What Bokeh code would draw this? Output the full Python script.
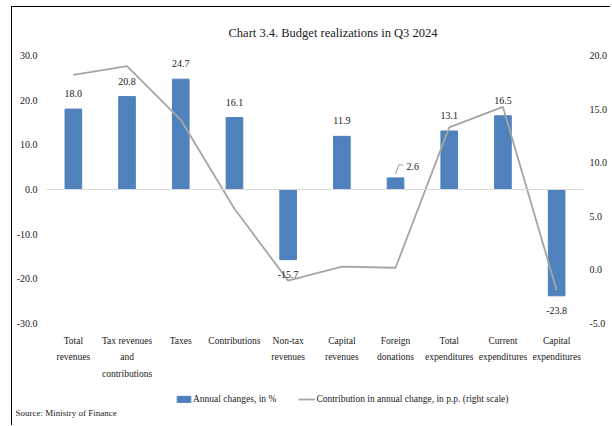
from bokeh.plotting import figure
from bokeh.layouts import column
from bokeh.models import (ColumnDataSource, Range1d, LinearAxis, FixedTicker,
                          NumeralTickFormatter, Span, Legend, LegendItem, Label)
from bokeh.core.properties import value
from bokeh.embed import file_html
from bokeh.resources import INLINE

categories = ["Total\nrevenues", "Tax revenues\nand\ncontributions", "Taxes",
              "Contributions", "Non-tax\nrevenues", "Capital\nrevenues",
              "Foreign\ndonations", "Total\nexpenditures", "Current\nexpenditures",
              "Capital\nexpenditures"]
annual_changes = [18.0, 20.8, 24.7, 16.1, -15.7, 11.9, 2.6, 13.1, 16.5, -23.8]
contribution = [18.2, 19.0, 14.0, 5.7, -1.0, 0.3, 0.2, 13.3, 15.2, -1.9]
left_ticks = [-30, -20, -10, 0, 10, 20, 30]
right_ticks = [-5, 0, 5, 10, 15, 20]

FONT_NAME = "Liberation Serif"
FONT = value(FONT_NAME)
BAR = "#4f81bd"
LINE = "#a5a5a5"
TXT = "#1a1a1a"

p = figure(x_range=categories, y_range=Range1d(-30, 30), width=598, height=380,
           output_backend="svg", toolbar_location=None,
           min_border_left=34, min_border_right=25, min_border_top=47,
           min_border_bottom=64)
p.extra_y_ranges = {"right": Range1d(-5, 20)}
p.outline_line_color = None
p.xgrid.grid_line_color = None
p.ygrid.grid_line_color = None

p.title.text = "Chart 3.4. Budget realizations in Q3 2024"
p.title.align = "left"
p.title.offset = 182
p.title.text_font = FONT_NAME
p.title.text_font_size = "12.5px"
p.title.text_font_style = "normal"
p.title.text_color = TXT
p.title.standoff = 32

# axes
ya = p.yaxis[0]
ya.ticker = FixedTicker(ticks=left_ticks)
ya.formatter = NumeralTickFormatter(format="0.0")
ra = LinearAxis(y_range_name="right", ticker=FixedTicker(ticks=right_ticks),
                formatter=NumeralTickFormatter(format="0.0"))
p.add_layout(ra, "right")
for ax in (ya, ra):
    ax.axis_line_color = None
    ax.major_tick_line_color = None
    ax.minor_tick_line_color = None
    ax.major_tick_out = 0
    ax.major_tick_in = 0
    ax.major_label_text_font = FONT_NAME
    ax.major_label_text_font_size = "10px"
    ax.major_label_text_color = TXT
ya.major_label_standoff = 9
ra.major_label_standoff = 6

xa = p.xaxis[0]
xa.axis_line_color = None
xa.major_tick_line_color = None
xa.major_tick_out = 0
xa.major_tick_in = 0
xa.major_label_text_font = FONT_NAME
xa.major_label_text_font_size = "9.5px"
xa.major_label_text_color = TXT
xa.major_label_text_line_height = 1.65
xa.major_label_standoff = 12

p.add_layout(Span(location=0, dimension="width", line_color="#d9d9d9", line_width=1))

src = ColumnDataSource(dict(cat=categories, val=annual_changes, con=contribution))

bars = p.vbar(x="cat", top="val", bottom=0, width=0.31, source=src,
              fill_color=BAR, line_color=BAR)
line = p.line(x="cat", y="con", source=src, y_range_name="right",
              line_color=LINE, line_width=1.8)

# data labels
fi = categories.index("Foreign\ndonations")
pos_idx = [i for i, v in enumerate(annual_changes) if v >= 0 and i != fi]
neg_idx = [i for i, v in enumerate(annual_changes) if v < 0]
pos = ColumnDataSource(dict(x=[categories[i] for i in pos_idx],
                            y=[annual_changes[i] for i in pos_idx],
                            t=["{:.1f}".format(annual_changes[i]) for i in pos_idx]))
neg = ColumnDataSource(dict(x=[categories[i] for i in neg_idx],
                            y=[annual_changes[i] for i in neg_idx],
                            t=["{:.1f}".format(annual_changes[i]) for i in neg_idx]))
p.text(x="x", y="y", text="t", source=pos, text_align="center",
       text_baseline="bottom", y_offset=-12, text_font=FONT,
       text_font_size="10px", text_color=TXT)
p.text(x="x", y="y", text="t", source=neg, text_align="center",
       text_baseline="top", y_offset=11, text_font=FONT,
       text_font_size="10px", text_color=TXT)

# Foreign donations label with leader line
fv = annual_changes[fi]
p.text(x=[categories[fi]], y=[fv], text=["{:.1f}".format(fv)], text_align="left",
       text_baseline="middle", x_offset=11, y_offset=-11, text_font=FONT,
       text_font_size="10px", text_color=TXT)
p.line(x=[fi + 0.5 + 0.0, fi + 0.5 + 0.06, fi + 0.5 + 0.14],
       y=[fv + 0.9, fv + 2.9, fv + 2.9], line_color="#7f7f7f", line_width=0.8)

# legend / source strip
p2 = figure(width=598, height=38, x_range=Range1d(0, 598), y_range=Range1d(0, 38),
            output_backend="svg", toolbar_location=None,
            x_axis_location=None, y_axis_location=None,
            min_border_left=0, min_border_right=0, min_border_top=0,
            min_border_bottom=0)
if "frame_align" in p2.properties():
    p2.frame_align = False
    p.frame_align = False
p2.outline_line_color = None
p2.xgrid.grid_line_color = None
p2.ygrid.grid_line_color = None
# legend proxies (kept outside the visible range of the strip)
lb = p2.vbar(x=[-50], top=[-50], width=1, fill_color=BAR, line_color=BAR)
ll = p2.line(x=[-60, -50], y=[-50, -50], line_color=LINE, line_width=1.8)

legend = Legend(items=[LegendItem(label="Annual changes, in %", renderers=[lb]),
                       LegendItem(label="Contribution in annual change, in p.p. (right scale)",
                                  renderers=[ll])],
                orientation="horizontal", location=(163, 21),
                border_line_color=None, background_fill_alpha=0,
                label_text_font=FONT_NAME, label_text_font_size="9.5px",
                label_text_color=TXT, glyph_width=17, glyph_height=8,
                label_standoff=1, spacing=22, padding=2, margin=0)
p2.add_layout(legend, "center")

p2.add_layout(Label(x=3, y=13, text="Source: Ministry of Finance", text_font=FONT_NAME,
                    text_font_size="9px", text_color=TXT, text_baseline="middle"))

layout = column(p, p2, spacing=0)
layout.styles = {"border-top": "1px solid #000", "border-left": "1px solid #000",
                 "margin-left": "11px", "margin-top": "6px"}

open("out.html", "w").write(file_html(layout, INLINE))
